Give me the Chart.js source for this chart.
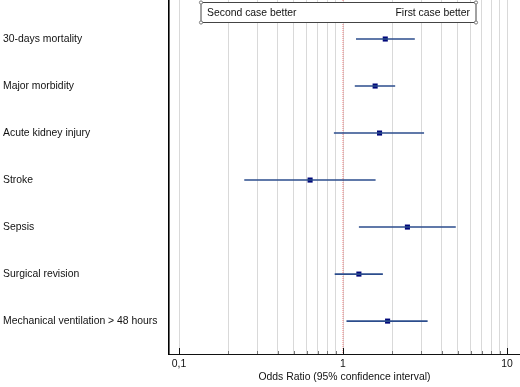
<!DOCTYPE html>
<html lang="en">
<head>
<meta charset="UTF-8">
<title>Forest plot</title>
<script src="https://cdn.jsdelivr.net/npm/chart.js"></script>
<style>
body { margin: 0; background: #fff; }
#wrap { width: 520px; height: 387px; }
</style>
</head>
<body>
<div id="wrap"><canvas id="forest" width="520" height="387"></canvas></div>
<script>
// data
var outcomes = ['30-days mortality', 'Major morbidity', 'Acute kidney injury', 'Stroke', 'Sepsis', 'Surgical revision', 'Mechanical ventilation > 48 hours'];
var oddsRatio = [1.81, 1.57, 1.67, 0.63, 2.47, 1.25, 1.87];
var ciLow = [1.20, 1.18, 0.88, 0.25, 1.25, 0.89, 1.05];
var ciHigh = [2.74, 2.08, 3.12, 1.58, 4.87, 1.75, 3.28];
var xTicks = [0.1, 0.2, 0.3, 0.4, 0.5, 0.6, 0.7, 0.8, 0.9, 1, 2, 3, 4, 5, 6, 7, 8, 9, 10];
var xTickLabels = ['0,1', '1', '10'];
var xMin = 0.0869, xMax = 12.0;
var yMin = -0.83, yMax = 6.70;

var font = 'Arial, "Liberation Sans", sans-serif';
var fontSize = 10.4;
var lineColor = '#2b4c8c';
var pointColor = '#00087a';

var datasets = [];
outcomes.forEach(function (name, i) {
    datasets.push({
        type: 'line',
        data: [{x: ciLow[i], y: i}, {x: ciHigh[i], y: i}],
        borderColor: lineColor,
        borderWidth: 1.6,
        pointRadius: 0,
        fill: false
    });
});
datasets.push({
    type: 'scatter',
    data: oddsRatio.map(function (v, i) { return {x: v, y: i}; }),
    pointStyle: 'rect',
    pointRadius: 3.6,
    backgroundColor: pointColor,
    borderColor: pointColor,
    borderWidth: 0
});
// line of no effect
datasets.push({
    type: 'line',
    data: [{x: 1, y: yMin}, {x: 1, y: yMax}],
    borderColor: '#f07a7a',
    borderWidth: 1,
    borderDash: [1, 1],
    pointRadius: 0,
    fill: false,
    order: 10
});

var extras = {
    id: 'extras',
    afterDraw: function (chart) {
        var c = chart.ctx;
        var xs = chart.scales.x;
        var area = chart.chartArea;
        c.save();
        // small tick marks inside the plot
        c.lineWidth = 1;
        xTicks.forEach(function (t) {
            var px = Math.round(xs.getPixelForValue(t)) + 0.5;
            var major = (t === 0.1 || t === 1 || t === 10);
            c.strokeStyle = major ? '#111' : '#777';
            c.beginPath();
            c.moveTo(px, area.bottom);
            c.lineTo(px, area.bottom - (major ? 6 : 3));
            c.stroke();
        });
        // header box
        var bx = 201, by = 2.5, bw = 275, bh = 20;
        c.fillStyle = '#fff';
        c.strokeStyle = '#444';
        c.beginPath();
        c.roundRect(bx, by, bw, bh, 2);
        c.fill();
        c.stroke();
        [[bx, by], [bx + bw, by], [bx, by + bh], [bx + bw, by + bh]].forEach(function (p) {
            c.beginPath();
            c.arc(p[0], p[1], 1.6, 0, Math.PI * 2);
            c.fillStyle = '#fff';
            c.fill();
            c.strokeStyle = '#777';
            c.stroke();
        });
        c.fillStyle = '#111';
        c.font = fontSize + 'px ' + font;
        c.textBaseline = 'middle';
        c.textAlign = 'left';
        c.fillText('Second case better', bx + 6, by + bh / 2 + 0.5);
        c.textAlign = 'right';
        c.fillText('First case better', bx + bw - 6, by + bh / 2 + 0.5);
        c.restore();
    }
};

new Chart(document.getElementById('forest').getContext('2d'), {
    data: {datasets: datasets},
    options: {
        responsive: false,
        animation: false,
        layout: {autoPadding: false, padding: {left: 3, right: 0, top: 0, bottom: 0}},
        plugins: {legend: {display: false}, tooltip: {enabled: false}},
        scales: {
            x: {
                type: 'logarithmic',
                min: xMin,
                max: xMax,
                afterBuildTicks: function (scale) {
                    scale.ticks = xTicks.map(function (v) { return {value: v}; });
                },
                afterFit: function (scale) {
                    scale.height = 33;
                },
                ticks: {
                    autoSkip: false,
                    maxRotation: 0,
                    padding: 4,
                    color: '#111',
                    font: {family: font, size: fontSize},
                    callback: function (v) {
                        if (v === 0.1) return xTickLabels[0];
                        if (v === 1) return xTickLabels[1];
                        if (v === 10) return xTickLabels[2];
                        return '';
                    }
                },
                grid: {color: '#d9d9d9', lineWidth: 1, drawTicks: false},
                border: {color: '#111', width: 1},
                title: {
                    display: true,
                    text: 'Odds Ratio (95% confidence interval)',
                    color: '#111',
                    font: {family: font, size: fontSize},
                    padding: {top: 2, bottom: 4}
                }
            },
            y: {
                type: 'linear',
                min: yMin,
                max: yMax,
                reverse: true,
                afterBuildTicks: function (scale) {
                    scale.ticks = outcomes.map(function (n, i) { return {value: i}; });
                },
                afterFit: function (scale) {
                    scale.width = 166;
                    scale.paddingTop = 0;
                    scale.paddingBottom = 0;
                },
                ticks: {
                    crossAlign: 'far',
                    autoSkip: false,
                    color: '#111',
                    font: {family: font, size: fontSize, lineHeight: 0.1},
                    callback: function (v) { return outcomes[v]; }
                },
                grid: {display: false, drawTicks: false},
                border: {color: '#000', width: 1.6}
            }
        }
    },
    plugins: [extras]
});
</script>
</body>
</html>
